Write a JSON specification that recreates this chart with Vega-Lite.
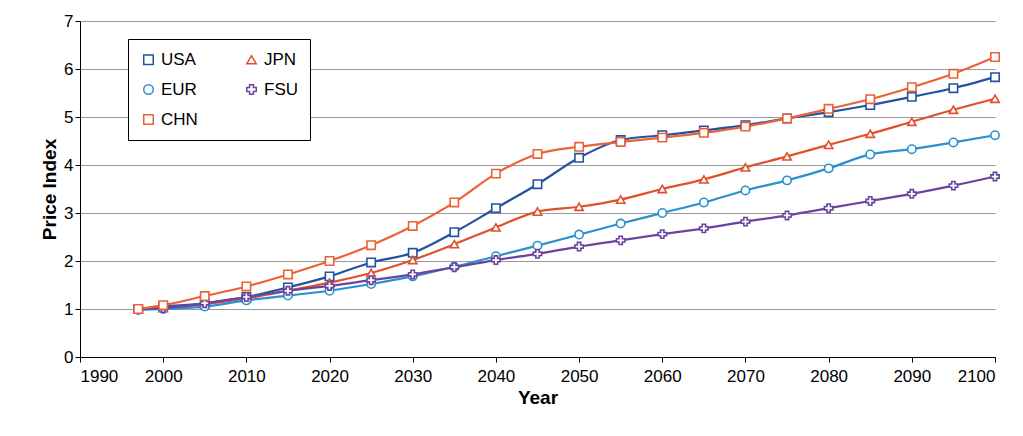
{
  "$schema": "https://vega.github.io/schema/vega-lite/v6.json",
  "width": 915,
  "height": 336,
  "padding": {"left": 40, "top": 12, "right": 20, "bottom": 5},
  "config": {
    "font": "Liberation Sans",
    "view": {"stroke": null},
    "axis": {"labelFontSize": 17, "titleFontSize": 19, "titleFontWeight": "bold", "labelColor": "#000", "titleColor": "#000", "domainColor": "#000", "tickColor": "#000"}
  },
  "data": {
    "values": [
      {"Year": 1997, "USA": 1.0, "JPN": 1.0, "EUR": 0.98, "FSU": 1.0, "CHN": 1.0},
      {"Year": 2000, "USA": 1.05, "JPN": 1.02, "EUR": 1.0, "FSU": 1.02, "CHN": 1.08},
      {"Year": 2005, "USA": 1.12, "JPN": 1.1, "EUR": 1.05, "FSU": 1.12, "CHN": 1.27},
      {"Year": 2010, "USA": 1.25, "JPN": 1.22, "EUR": 1.18, "FSU": 1.25, "CHN": 1.47},
      {"Year": 2015, "USA": 1.45, "JPN": 1.38, "EUR": 1.28, "FSU": 1.38, "CHN": 1.72},
      {"Year": 2020, "USA": 1.68, "JPN": 1.55, "EUR": 1.38, "FSU": 1.48, "CHN": 2.0},
      {"Year": 2025, "USA": 1.97, "JPN": 1.75, "EUR": 1.52, "FSU": 1.6, "CHN": 2.33},
      {"Year": 2030, "USA": 2.17, "JPN": 2.02, "EUR": 1.68, "FSU": 1.72, "CHN": 2.73},
      {"Year": 2035, "USA": 2.6, "JPN": 2.35, "EUR": 1.88, "FSU": 1.87, "CHN": 3.22},
      {"Year": 2040, "USA": 3.1, "JPN": 2.7, "EUR": 2.1, "FSU": 2.02, "CHN": 3.82},
      {"Year": 2045, "USA": 3.6, "JPN": 3.03, "EUR": 2.32, "FSU": 2.15, "CHN": 4.23},
      {"Year": 2050, "USA": 4.15, "JPN": 3.13, "EUR": 2.55, "FSU": 2.3, "CHN": 4.38},
      {"Year": 2055, "USA": 4.52, "JPN": 3.28, "EUR": 2.78, "FSU": 2.43, "CHN": 4.48},
      {"Year": 2060, "USA": 4.62, "JPN": 3.5, "EUR": 3.0, "FSU": 2.56, "CHN": 4.57},
      {"Year": 2065, "USA": 4.72, "JPN": 3.7, "EUR": 3.22, "FSU": 2.68, "CHN": 4.67},
      {"Year": 2070, "USA": 4.83, "JPN": 3.95, "EUR": 3.47, "FSU": 2.82, "CHN": 4.8},
      {"Year": 2075, "USA": 4.97, "JPN": 4.18, "EUR": 3.68, "FSU": 2.95, "CHN": 4.97},
      {"Year": 2080, "USA": 5.1, "JPN": 4.42, "EUR": 3.93, "FSU": 3.1, "CHN": 5.17},
      {"Year": 2085, "USA": 5.25, "JPN": 4.65, "EUR": 4.22, "FSU": 3.25, "CHN": 5.37},
      {"Year": 2090, "USA": 5.42, "JPN": 4.9, "EUR": 4.33, "FSU": 3.4, "CHN": 5.62},
      {"Year": 2095, "USA": 5.6, "JPN": 5.15, "EUR": 4.47, "FSU": 3.57, "CHN": 5.9},
      {"Year": 2100, "USA": 5.83, "JPN": 5.38, "EUR": 4.62, "FSU": 3.76, "CHN": 6.25}
    ]
  },
  "transform": [
    {"fold": ["USA", "JPN", "EUR", "FSU", "CHN"], "as": ["Region", "Index"]}
  ],
  "encoding": {
    "x": {"field": "Year", "type": "quantitative", "title": "Year",
      "scale": {"domain": [1990, 2100], "nice": false},
      "axis": {"grid": false, "values": [1990, 2000, 2010, 2020, 2030, 2040, 2050, 2060, 2070, 2080, 2090, 2100], "format": "d", "labelPadding": 6}},
    "y": {"field": "Index", "type": "quantitative", "title": "Price Index",
      "scale": {"domain": [0, 7]},
      "axis": {"tickCount": 7, "gridColor": "#999", "gridWidth": 1.2, "domain": true}},
    "color": {"field": "Region", "type": "nominal", "title": null,
      "scale": {"domain": ["USA", "EUR", "CHN", "JPN", "FSU"], "range": ["#2352a0", "#2b90d0", "#ea6236", "#e0502b", "#6a44a0"]}}
  },
  "layer": [
    {
      "mark": {"type": "line", "interpolate": "monotone", "strokeWidth": 2.2}
    },
    {
      "mark": {"type": "point", "filled": false, "size": 70, "strokeWidth": 1.6, "fill": "white", "fillOpacity": 1},
      "encoding": {
        "shape": {"field": "Region", "type": "nominal", "title": null,
          "scale": {"domain": ["USA", "EUR", "CHN", "JPN", "FSU"], "range": ["square", "circle", "square", "triangle-up", "cross"]},
          "legend": {"orient": "none", "legendX": 48, "legendY": 18, "columns": 2, "columnPadding": 45, "labelFontSize": 17, "symbolSize": 90, "padding": 12, "strokeColor": "#000", "fillColor": "white", "rowPadding": 12}}
      }
    }
  ]
}
